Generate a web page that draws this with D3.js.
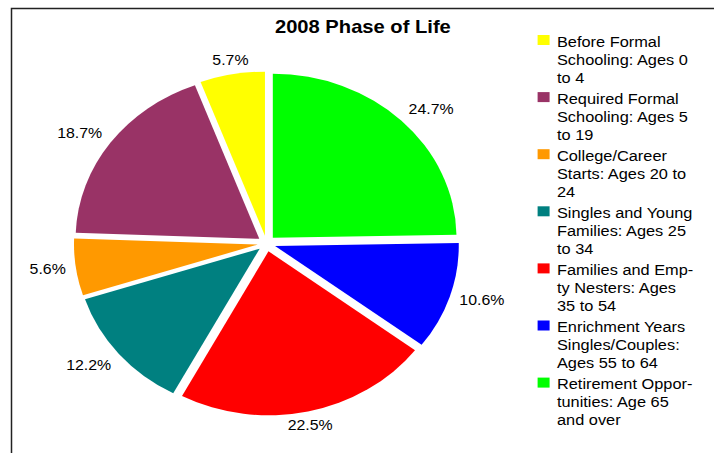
<!DOCTYPE html>
<html>
<head>
<meta charset="utf-8">
<script src="https://cdn.jsdelivr.net/npm/d3@7"></script>
<style>
  body { margin: 0; background: #fff; }
  text { font-family: "Liberation Sans", Arial, sans-serif; fill: #000; }
</style>
</head>
<body>
<div class="piechart"></div>
<script>
// chart data (legend order)
const categories = [
  "Before Formal Schooling: Ages 0 to 4",
  "Required Formal Schooling: Ages 5 to 19",
  "College/Career Starts: Ages 20 to 24",
  "Singles and Young Families: Ages 25 to 34",
  "Families and Empty Nesters: Ages 35 to 54",
  "Enrichment Years Singles/Couples: Ages 55 to 64",
  "Retirement Opportunities: Age 65 and over"
];
const legendLines = [
  ["Before Formal", "Schooling: Ages 0", "to 4"],
  ["Required Formal", "Schooling: Ages 5", "to 19"],
  ["College/Career", "Starts: Ages 20 to", "24"],
  ["Singles and Young", "Families: Ages 25", "to 34"],
  ["Families and Emp-", "ty Nesters: Ages", "35 to 54"],
  ["Enrichment Years", "Singles/Couples:", "Ages 55 to 64"],
  ["Retirement Oppor-", "tunities: Age 65", "and over"]
];
const values = [5.7, 18.7, 5.6, 12.2, 22.5, 10.6, 24.7];
const colors = ["#ffff00", "#993366", "#ff9900", "#008080", "#ff0000", "#0000ff", "#00ff00"];
const title = "2008 Phase of Life";

const width = 714, height = 453;
const stretch = 1.12;          // the original chart is stretched sideways
const cx = 238, cy = 243.5, radius = 164, explode = 8;

var svg = d3.select(".piechart")
    .append("svg")
    .attr("width", width)
    .attr("height", height);

// frame (top and left edges only are visible)
svg.append("path")
    .attr("d", "M11.5," + height + "V8.5H" + width)
    .attr("fill", "none")
    .attr("stroke", "#222")
    .attr("stroke-width", 1.5);

var g = svg.append("g")
    .attr("transform", "scale(" + stretch + ",1)");

g.append("text")
    .attr("x", 324)
    .attr("y", 33.5)
    .attr("text-anchor", "middle")
    .style("font-size", "18px")
    .style("font-weight", "bold")
    .text(title);

// pie runs clockwise from 12 o'clock in reverse legend order
var slices = d3.range(values.length).reverse().map(function(i) {
    return {name: categories[i], value: values[i], color: colors[i]};
});

var pie = d3.pie().sort(null).value(function(d) { return d.value; });
var arc = d3.arc().innerRadius(0).outerRadius(radius);
var arcs = pie(slices);

var pieG = g.append("g").attr("transform", "translate(" + cx + "," + cy + ")");

pieG.selectAll("path")
    .data(arcs)
    .enter()
    .append("path")
    .attr("d", arc)
    .attr("fill", function(d) { return d.data.color; })
    .attr("transform", function(d) {
        var a = (d.startAngle + d.endAngle) / 2;
        return "translate(" + (explode * Math.sin(a)) + "," + (-explode * Math.cos(a)) + ")";
    });

// percentage labels
var labelR = radius + explode + 9;
var fmt = d3.format(".1f");
pieG.selectAll("text")
    .data(arcs)
    .enter()
    .append("text")
    .attr("x", function(d) { return labelR * Math.sin((d.startAngle + d.endAngle) / 2); })
    .attr("y", function(d) { return -labelR * Math.cos((d.startAngle + d.endAngle) / 2); })
    .attr("text-anchor", function(d) {
        var s = Math.sin((d.startAngle + d.endAngle) / 2);
        return s > 0.35 ? "start" : (s < -0.35 ? "end" : "middle");
    })
    .attr("dy", function(d) {
        var c = Math.cos((d.startAngle + d.endAngle) / 2);
        return c > 0.35 ? "0em" : (c < -0.35 ? "0.72em" : "0.36em");
    })
    .style("font-size", "14.2px")
    .text(function(d) { return fmt(d.data.value) + "%"; });

// legend
var legendX = 480, legendY = 46.7, itemStep = 57.1, lineH = 18.1;
var legend = g.selectAll(".legend")
    .data(categories)
    .enter()
    .append("g")
    .attr("class", "legend")
    .attr("transform", function(d, i) { return "translate(" + legendX + "," + (legendY + i * itemStep) + ")"; });

legend.append("rect")
    .attr("x", 0)
    .attr("y", -11.7)
    .attr("width", 10.7)
    .attr("height", 10)
    .attr("fill", function(d, i) { return colors[i]; });

legend.append("text")
    .attr("x", 17.3)
    .attr("y", 0)
    .style("font-size", "14.6px")
    .selectAll("tspan")
    .data(function(d, i) { return legendLines[i]; })
    .enter()
    .append("tspan")
    .attr("x", 17.3)
    .attr("y", function(d, j) { return j * lineH; })
    .text(function(d) { return d; });
</script>
</body>
</html>
